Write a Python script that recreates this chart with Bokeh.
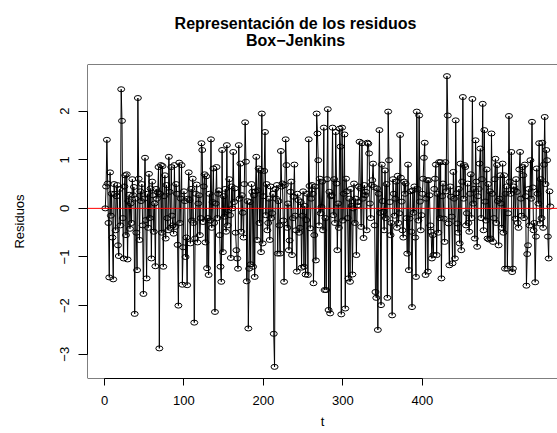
from bokeh.plotting import figure
from bokeh.models import Range1d, Span, FixedTicker, Title
from bokeh.embed import file_html
from bokeh.resources import INLINE

# Residuals, t = 1..N
residuos = [
    0.00, 0.45, 1.41, 0.51, -0.30, -1.42, 0.74, -0.15, 0.30, -0.60,
    -1.46, 0.50, 0.30, -0.45, 0.25, 0.48, -0.76, -0.98, 0.40, -0.35,
    2.45, 1.80, -0.20, -1.03, 0.45, 0.68, -0.55, 0.70, -1.05, 0.15,
    0.28, -0.42, 0.10, -0.30, 0.60, 0.27, 0.44, -2.17, 0.20, -0.50,
    -1.27, 2.27, 0.61, -0.65, 0.35, 0.15, 0.50, -0.35, -1.76, 0.20,
    1.04, -0.24, -1.44, 0.30, -0.40, 0.71, -0.20, 0.41, -1.03, 0.55,
    0.27, -0.48, 0.10, -1.19, 0.40, 0.20, 0.33, 0.85, -2.88, 0.30,
    0.89, -0.50, 0.87, -1.20, 0.25, 0.68, -0.62, 0.48, -0.20, -0.45,
    1.06, 0.34, -0.40, 0.85, -0.15, -0.35, -0.52, 0.89, -0.38, 0.50,
    0.30, -0.75, -2.00, 0.94, -0.30, 0.20, 0.89, -1.57, -0.80, 0.35,
    0.15, -1.00, -0.60, -1.58, 0.20, 0.74, 0.17, -0.72, 0.40, -0.25,
    0.61, -0.30, -2.35, -0.62, 0.30, 0.49, -0.70, 0.10, 0.27, -0.55,
    -0.20, 1.34, 1.20, -0.28, 0.45, 0.70, -0.70, 0.66, -1.23, -0.20,
    -1.37, 0.30, -0.25, 1.42, -0.40, 0.13, 0.82, -0.30, -2.13, 0.10,
    0.85, -0.20, 0.30, 0.37, -0.55, -1.20, -1.51, 1.20, -0.90, 0.25,
    -0.17, 0.40, -0.48, 1.30, -0.35, -0.04, 0.60, -0.14, -1.02, 0.45,
    0.00, 1.16, 0.13, 0.41, -0.50, -0.86, -1.03, -1.24, 1.30, 0.20,
    0.92, -0.48, 0.27, -0.09, -0.60, 0.50, 1.77, 0.96, -1.50, 0.15,
    -2.47, -1.24, 0.13, -1.15, 0.50, 0.34, -1.20, 0.27, -1.41, 0.35,
    1.06, -0.65, 0.37, 0.82, -0.30, 0.78, -0.90, 1.95, -0.72, 0.25,
    0.77, 1.57, -0.14, 0.50, -0.45, -0.30, 0.20, -0.65, 0.45, -0.20,
    -0.10, 0.30, -2.58, -3.26, 0.40, 0.20, 0.48, -0.93, 0.15, -0.35,
    -0.93, 1.18, 0.45, 0.51, -0.25, -1.51, 0.48, 1.42, 0.89, -0.40,
    0.10, -0.86, -0.66, 0.34, 0.55, -0.96, -0.20, 0.24, 0.90, -0.15,
    -0.45, -1.30, 0.30, 0.17, -0.50, -0.40, 0.13, -1.22, -0.15, 0.35,
    -1.20, 0.05, -1.36, -0.24, 0.30, -1.37, 1.42, 0.46, -0.41, 0.20,
    0.48, 0.30, -1.54, -0.55, 0.45, -1.07, 1.95, 1.54, 0.99, -0.35,
    0.61, -0.10, 0.03, 0.55, -0.45, 1.66, -1.68, -0.20, -1.68, 0.60,
    2.04, -2.09, 0.34, -2.16, 0.25, 0.27, 1.66, -0.14, 0.60, -0.30,
    1.57, 0.51, -0.86, 0.10, -0.40, 1.64, 1.27, -2.18, 1.66, -0.25,
    0.30, 1.52, -2.06, 0.61, 0.35, -0.20, -1.44, 0.20, -1.51, 0.40,
    0.05, -1.36, 0.00, 0.51, -0.30, 0.20, -0.96, 0.06, 0.13, 0.45,
    1.37, 0.41, -0.38, 1.34, 0.20, -0.61, 0.48, 0.27, 0.34, -0.45,
    1.35, 1.33, 1.13, 0.10, -0.20, 0.48, 0.58, 0.92, 0.44, -0.35,
    -1.72, -1.84, 0.41, -2.50, 0.30, 1.61, -0.09, -1.99, 0.90, 0.15,
    -0.07, -0.45, 0.78, -0.20, 0.50, -1.84, 1.99, 0.99, 0.13, -0.55,
    -0.30, -2.20, 0.60, 0.30, -0.15, 0.20, 0.55, -0.40, 0.67, -0.30,
    -0.10, 1.51, 0.63, 0.14, -0.45, -0.60, 0.55, 0.30, 0.51, -0.20,
    -0.93, 0.90, -1.27, -0.21, 0.35, -0.48, -2.03, 0.37, -0.09, 0.45,
    -0.60, -1.41, 1.99, 0.40, -0.25, 1.91, 0.14, -0.45, -0.14, 0.30,
    0.61, 1.04, 1.35, -1.37, 0.20, 0.58, -1.30, 0.58, 0.27, -0.35,
    -0.48, -1.03, -0.55, -0.96, 0.40, 0.61, 0.90, -0.96, 0.30, -0.50,
    0.95, -0.20, 0.95, -1.44, 0.25, 0.51, -0.21, -0.69, 0.95, 0.35,
    2.72, 1.91, -0.31, -1.17, 0.45, 0.24, -0.17, -1.13, 0.75, 0.20,
    -1.03, 1.81, 0.31, -0.31, -0.50, 0.40, -0.72, 0.92, -0.86, 0.55,
    2.29, 0.20, 0.89, 0.85, -0.35, -0.10, 0.51, -0.30, -0.48, 0.30,
    0.70, -0.20, 2.25, 0.10, 0.40, -0.62, 1.40, 0.55, -0.79, 0.25,
    0.40, 0.92, 1.23, -0.20, 0.60, 2.15, -0.45, 1.61, 0.14, -0.25,
    0.80, -0.62, 0.50, -0.64, 0.35, -0.62, 1.54, 0.30, -0.69, -0.20,
    0.60, 1.02, -0.30, 0.89, 0.15, -0.76, 0.20, 0.68, 0.10, -0.40,
    0.92, -0.50, 0.68, -1.24, 0.30, 0.45, -1.24, -0.10, 1.90, 0.55,
    0.30, 1.16, -1.31, -1.24, 0.45, 0.38, -0.21, 0.60, 0.34, -0.30,
    -0.40, 0.80, 1.16, 0.20, -0.15, 0.85, 0.68, -0.20, 0.90, 0.25,
    -1.59, -0.94, -0.76, 0.40, -0.35, 0.99, 0.20, 1.78, 0.43, -0.45,
    -0.30, -1.52, -0.58, 0.82, 0.30, 0.10, 1.34, -0.31, 0.60, -0.20,
    1.35, -0.40, 0.90, 1.88, 0.50, 1.20, 0.99, -0.58, -1.03, 0.35,
    0.04,
]
t = list(range(1, len(residuos) + 1))

x_ticks = [0, 100, 200, 300, 400]
x_tick_labels = ["0", "100", "200", "300", "400"]
y_ticks = [-3, -2, -1, 0, 1, 2]
y_tick_labels = ["\u22123", "\u22122", "\u22121", "0", "1", "2"]
title_lines = ["Representación de los residuos", "Box\u2212Jenkins"]
x_label = "t"
y_label = "Residuos"

W, H = 557, 433
LEFT, TOP, BOTTOM = 87, 64, 55
FONT = "Liberation Sans"
TITLE_PX = 16
TITLE_CENTER = 295          # horizontal centre of the title in the picture (px)
# approximate advance widths (em) of Liberation Sans Bold, to centre left-aligned titles
BOLD_EM = {"R": .722, "e": .556, "p": .611, "r": .389, "s": .556, "n": .611, "t": .333,
           "a": .556, "c": .556, "i": .278, "ó": .611, " ": .278, "d": .611, "l": .278,
           "o": .611, "u": .611, "B": .722, "x": .556, "\u2212": .584, "J": .556, "k": .556}

def text_width(s):
    return sum(BOLD_EM.get(ch, .6) for ch in s) * TITLE_PX

n = len(residuos)
ymin, ymax = min(residuos), max(residuos)
ypad = 0.04 * (ymax - ymin)
xpad = 0.04 * (n - 1)
x_start = 1 - xpad
x_end_full = n + xpad
# the original picture is cut on the right: only ~97.8% of the plot region is visible
x_end = x_start + (x_end_full - x_start) * 0.978
y_start, y_end = ymin - ypad, ymax + ypad

p = figure(width=W, height=H, x_range=Range1d(x_start, x_end), y_range=Range1d(y_start, y_end),
           output_backend="svg", toolbar_location=None,
           min_border_left=LEFT, min_border_right=0, min_border_top=TOP, min_border_bottom=BOTTOM)
p.title_location = None
p.outline_line_color = None
p.grid.visible = False
p.background_fill_color = "white"
p.border_fill_color = "white"

p.line(t, residuos, line_color="black", line_width=1)
p.ellipse(t, residuos, width=7, height=5, width_units="screen", height_units="screen",
          fill_color=None, line_color="black", line_width=1)

for loc, dim in [(x_start, "height"), (y_start, "width"), (y_end, "width")]:
    p.add_layout(Span(location=loc, dimension=dim, line_color="black", line_width=1))
p.add_layout(Span(location=0, dimension="width", line_color="red", line_width=1))

# two title lines, each centred on TITLE_CENTER; second line is nearest the plot
for txt, standoff in [(title_lines[1], 32), (title_lines[0], -36)]:
    p.add_layout(Title(text=txt, align="left", offset=TITLE_CENTER - LEFT - text_width(txt) / 2,
                       standoff=standoff, text_font=FONT, text_font_style="bold",
                       text_font_size=f"{TITLE_PX}px", text_color="black"), "above")

ax = p.xaxis[0]
ax.ticker = FixedTicker(ticks=x_ticks)
ax.major_label_overrides = dict(zip(x_ticks, x_tick_labels))
ax.bounds = (x_ticks[0], x_ticks[-1])
ax.axis_label = x_label
ay = p.yaxis[0]
ay.ticker = FixedTicker(ticks=y_ticks)
ay.major_label_overrides = dict(zip(y_ticks, y_tick_labels))
ay.bounds = (y_ticks[0], y_ticks[-1])
ay.axis_label = y_label
ay.major_label_orientation = "vertical"

for a, tick_out in [(ax, 7), (ay, 9)]:
    a.axis_line_color = "black"
    a.major_tick_line_color = "black"
    a.minor_tick_line_color = None
    a.major_tick_in = 0
    a.major_tick_out = tick_out
    a.major_label_text_font = FONT
    a.major_label_text_font_size = "13px"
    a.major_label_text_color = "black"
    a.axis_label_text_font = FONT
    a.axis_label_text_font_size = "13px"
    a.axis_label_text_font_style = "normal"
    a.axis_label_text_color = "black"
ax.major_label_standoff = 10
ax.axis_label_standoff = 6
ay.major_label_standoff = 9
ay.axis_label_standoff = 31

open("out.html", "w").write(file_html(p, INLINE))
